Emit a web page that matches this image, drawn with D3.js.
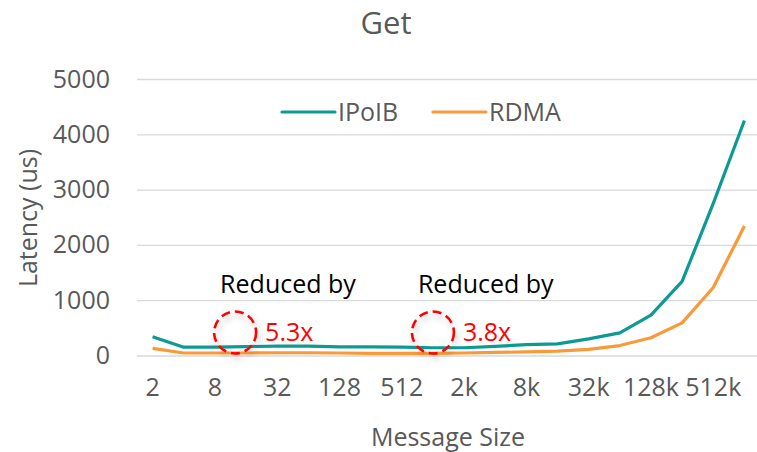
<!DOCTYPE html>
<html>
<head>
<meta charset="utf-8">
<script src="https://cdn.jsdelivr.net/npm/d3@7"></script>
<style>
    body { margin: 0; background: #fff; }
    svg text { font-family: "Open Sans", "Noto Sans", sans-serif; }
</style>
</head>
<body>
<div id="chart"></div>
<script>

    var sizes = ["2", "4", "8", "16", "32", "64", "128", "256", "512", "1k", "2k", "4k", "8k", "16k", "32k", "64k", "128k", "256k", "512k", "1M"];
    var ipoib = [340, 150, 150, 160, 170, 170, 155, 155, 150, 140, 140, 165, 195, 210, 300, 410, 730, 1340, 2750, 4250];
    var rdma = [130, 45, 45, 45, 50, 50, 45, 40, 40, 40, 45, 55, 65, 80, 110, 180, 320, 590, 1230, 2340];
    var yTicks = [0, 1000, 2000, 3000, 4000, 5000];
    var notes = [
        {at: 2.65, label: "5.3x"},
        {at: 9, label: "3.8x"}
    ];

    var width = 757, height = 452;
    var grey = "#595959";
    var teal = "#0e9a94", orange = "#f99a3a";
    var fs = "25px";

    var svg = d3.select("#chart").append("svg")
        .attr("width", width)
        .attr("height", height);

    var x = d3.scaleBand()
        .domain(sizes)
        .range([137, 760]);

    var y = d3.scaleLinear()
        .domain([0, 5000])
        .range([355.5, 79]);

    function cx(i) { return x(sizes[0]) + x.bandwidth() / 2 + i * x.step(); }

    // gridlines + y labels
    var yAxis = svg.append("g")
        .attr("transform", "translate(137,0)")
        .call(d3.axisLeft(y).tickValues(yTicks).tickSize(-623).tickPadding(27).tickFormat(d3.format("d")));
    yAxis.select(".domain").remove();
    yAxis.selectAll(".tick line").attr("stroke", "#d9d9d9").attr("stroke-width", 1.3);
    yAxis.selectAll(".tick text").attr("fill", grey).style("font-size", fs);

    // x labels, every other category
    var xAxis = svg.append("g")
        .attr("transform", "translate(0,355.5)")
        .call(d3.axisBottom(x).tickSize(0).tickPadding(23)
            .tickFormat(function (d, i) { return i % 2 === 0 ? d : ""; }));
    xAxis.select(".domain").remove();
    xAxis.selectAll(".tick text").attr("fill", grey).style("font-size", fs);

    var line = d3.line()
        .x(function (d, i) { return cx(i); })
        .y(function (d) { return y(d); });

    svg.append("path").datum(rdma)
        .attr("d", line)
        .attr("fill", "none")
        .attr("stroke", orange)
        .attr("stroke-width", 3.2)
        .attr("stroke-linejoin", "round");

    svg.append("path").datum(ipoib)
        .attr("d", line)
        .attr("fill", "none")
        .attr("stroke", teal)
        .attr("stroke-width", 3.2)
        .attr("stroke-linejoin", "round");

    // title + axis titles
    svg.append("text")
        .attr("x", 386).attr("y", 34)
        .attr("text-anchor", "middle")
        .attr("fill", grey)
        .style("font-size", "31px")
        .text("Get");

    svg.append("text")
        .attr("transform", "translate(37,218) rotate(-90)")
        .attr("text-anchor", "middle")
        .attr("fill", grey)
        .style("font-size", fs)
        .text("Latency (us)");

    svg.append("text")
        .attr("x", 448).attr("y", 446)
        .attr("text-anchor", "middle")
        .attr("fill", grey)
        .style("font-size", fs)
        .text("Message Size");

    // legend
    var legend = [{name: "IPoIB", color: teal, x: 282}, {name: "RDMA", color: orange, x: 433}];
    var lg = svg.selectAll(".lg").data(legend).enter().append("g")
        .attr("transform", function (d) { return "translate(" + d.x + ",112)"; });
    lg.append("line")
        .attr("x1", 0).attr("x2", 53)
        .attr("stroke", function (d) { return d.color; })
        .attr("stroke-width", 3.2)
        .attr("stroke-linecap", "round");
    lg.append("text")
        .attr("x", 56).attr("dy", "0.35em")
        .attr("fill", grey)
        .style("font-size", fs)
        .text(function (d) { return d.name; });

    // annotations
    var defs = svg.append("defs");
    var f = defs.append("filter").attr("id", "shadow")
        .attr("x", "-50%").attr("y", "-50%").attr("width", "200%").attr("height", "200%");
    f.append("feDropShadow")
        .attr("dx", 2).attr("dy", 4).attr("stdDeviation", 3)
        .attr("flood-color", "#000").attr("flood-opacity", 0.25);

    var note = svg.selectAll(".note").data(notes).enter().append("g")
        .attr("transform", function (d) { return "translate(" + cx(d.at) + ",0)"; });
    note.append("circle")
        .attr("cy", 332.5).attr("r", 21)
        .attr("fill", "none")
        .attr("stroke", "#ff0000")
        .attr("stroke-width", 2.6)
        .attr("stroke-dasharray", "9,5")
        .attr("filter", "url(#shadow)");
    note.append("text")
        .attr("x", 30).attr("y", 332.5).attr("dy", "0.35em")
        .attr("fill", "#ff0000")
        .style("font-size", fs)
        .text(function (d) { return d.label; });
    note.append("text")
        .attr("x", -15).attr("y", 293)
        .attr("fill", "#000")
        .style("font-size", fs)
        .text("Reduced by");

</script>
</body>
</html>
